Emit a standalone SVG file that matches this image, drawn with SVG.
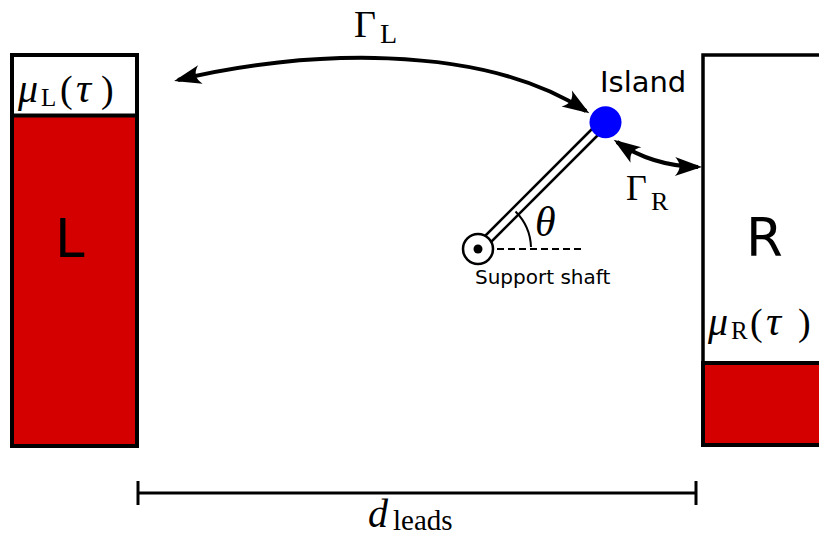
<svg xmlns="http://www.w3.org/2000/svg" width="819" height="543" viewBox="0 0 819 543">
<style>
.box{fill:#fff;stroke:#000;stroke-width:4}
.red{fill:#d40000;stroke:#000;stroke-width:4}
.math{font-family:"Liberation Serif","DejaVu Serif",serif;fill:#000}
.it{font-style:italic}
.sans{font-family:"DejaVu Sans","Liberation Sans",sans-serif;fill:#000}
.arr{fill:none;stroke:#000;stroke-width:4;marker-start:url(#ah);marker-end:url(#ah)}
.dim{stroke:#000;stroke-width:3}
</style>
<defs>
<marker id="ah" markerUnits="userSpaceOnUse" viewBox="-30 -12 36 24" refX="0" refY="0" markerWidth="36" markerHeight="24" orient="auto-start-reverse">
<path d="M 4,0 L -23,-9.5 Q -14,0 -23,9.5 Z" fill="#000"/>
</marker>
</defs>
<g id="lead-L">
<rect class="box" x="12" y="55" width="125" height="391"/>
<rect class="red" x="12" y="115.5" width="125" height="330.5"/>
<text class="math it" x="18" y="102" font-size="40">μ</text>
<text class="math" x="41" y="106" font-size="25">L</text>
<text class="math" x="60" y="102" font-size="38">(</text>
<text class="math it" x="76" y="102" font-size="42">τ</text>
<text class="math" x="101" y="102" font-size="38">)</text>
<text class="sans" x="55" y="257" font-size="53">L</text>
</g>
<g id="lead-R">
<rect class="box" x="703" y="55" width="130" height="390" style="stroke-width:3.5"/>
<rect class="red" x="703" y="363" width="130" height="82"/>
<text class="math it" x="708" y="335" font-size="40">μ</text>
<text class="math" x="731" y="339" font-size="25">R</text>
<text class="math" x="750" y="335" font-size="38">(</text>
<text class="math it" x="766" y="335" font-size="42">τ</text>
<text class="math" x="798" y="335" font-size="38">)</text>
<text class="sans" x="746" y="256" font-size="53">R</text>
</g>
<g id="rod">
<line x1="478" y1="249" x2="605" y2="122" stroke="#000" stroke-width="11"/>
<line x1="478" y1="249" x2="605" y2="122" stroke="#fff" stroke-width="6"/>
<line x1="486" y1="249" x2="583" y2="249" stroke="#000" stroke-width="2" stroke-dasharray="7,4"/>
<path d="M 531,247 A 53 53 0 0 0 515.5,211.5" fill="none" stroke="#000" stroke-width="2"/>
<text class="math it" x="535" y="236" font-size="42">θ</text>
</g>
<g id="shaft">
<circle cx="478" cy="249" r="15" fill="#fff" stroke="#000" stroke-width="2.5"/>
<circle cx="478" cy="249" r="4.5" fill="#000"/>
<text class="sans" x="475" y="284" font-size="20">Support shaft</text>
</g>
<g id="island">
<circle cx="605.5" cy="122.3" r="16" fill="#0000ff"/>
<text class="sans" x="600" y="92" font-size="29">Island</text>
</g>
<g id="connectors">
<path class="arr" d="M 178,80 C 300,50 480,42 586,111"/>
<path class="arr" d="M 617,142 Q 652,166 698,167"/>
<line class="dim" x1="138" y1="493" x2="696" y2="493"/>
<line class="dim" x1="138" y1="481" x2="138" y2="505"/>
<line class="dim" x1="696" y1="481" x2="696" y2="505"/>
</g>
<g id="labels">
<text class="math" x="354" y="37" font-size="38">Γ<tspan x="380" y="43" font-size="28">L</tspan></text>
<text class="math" x="626" y="200" font-size="36">Γ<tspan x="651" y="210" font-size="26">R</tspan></text>
<text class="math it" x="368" y="527" font-size="40">d</text>
<text class="math" x="393" y="530" font-size="29">leads</text>
</g>
</svg>
